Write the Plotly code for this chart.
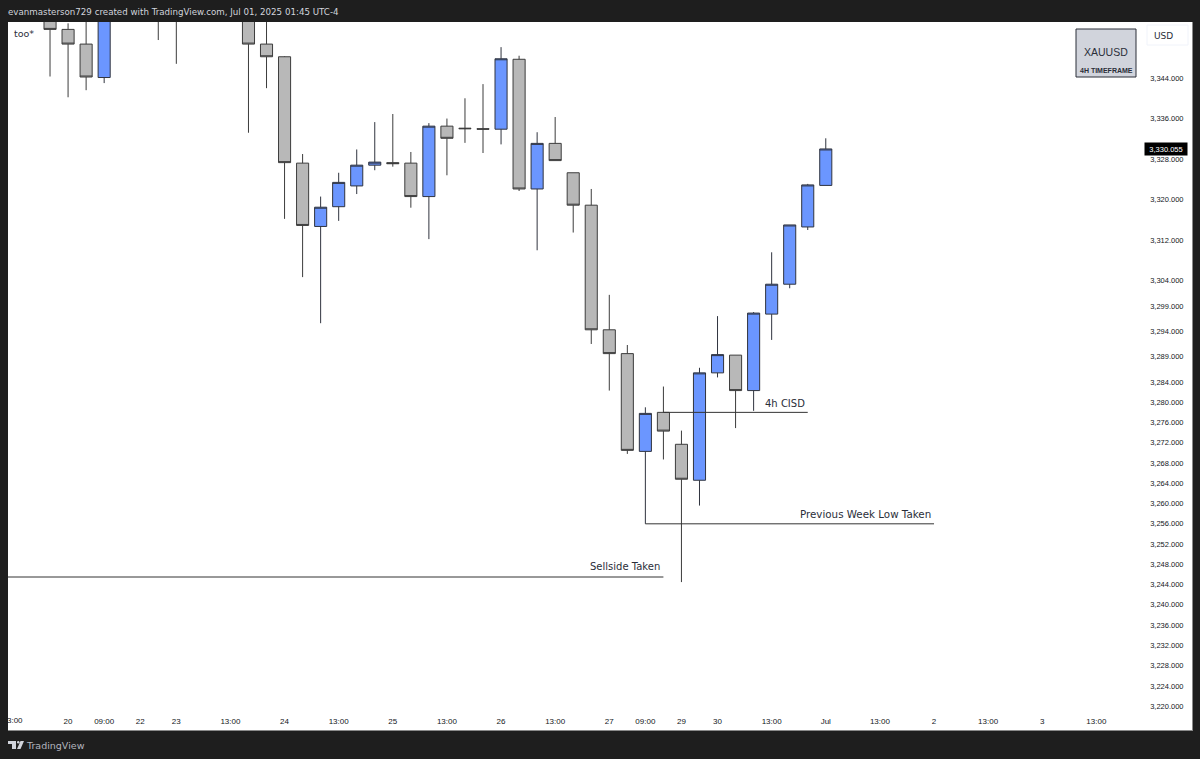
import plotly.graph_objects as go

# bar number on the 4h axis, candles fully off the top of the chart are left out
bars = [0, 1, 2, 3, 6, 7, 11, 12, 13, 14, 15, 16, 17, 18, 19, 20, 21, 22, 23, 24, 25, 26,
        27, 28, 29, 30, 31, 32, 33, 34, 35, 36, 37, 38, 39, 40, 41, 42, 43]
opens = [3358.0, 3353.6, 3350.7, 3344.1, 3362.0, 3360.0, 3356.5, 3350.7, 3348.2, 3327.2,
         3314.7, 3318.6, 3322.7, 3326.8, 3327.3, 3327.2, 3320.6, 3334.5, 3334.1, 3334.0,
         3333.9, 3347.7, 3322.1, 3331.1, 3325.3, 3318.9, 3294.3, 3289.6, 3270.3, 3278.0,
         3271.7, 3264.6, 3285.8, 3289.3, 3282.3, 3297.4, 3303.3, 3314.6, 3322.8]
closes = [3353.6, 3350.7, 3344.2, 3362.0, 3358.0, 3356.0, 3350.7, 3348.2, 3327.3, 3314.9,
          3318.5, 3323.4, 3326.8, 3327.4, 3327.1, 3320.6, 3334.5, 3332.1, 3334.0, 3333.9,
          3347.8, 3322.1, 3331.1, 3327.7, 3318.9, 3294.3, 3289.6, 3270.5, 3277.8, 3274.3,
          3264.8, 3285.8, 3289.4, 3282.3, 3297.6, 3303.3, 3315.0, 3322.9, 3330.0]
highs = [3360.0, 3354.8, 3357.0, 3364.0, 3364.0, 3362.0, 3358.0, 3356.0, 3348.3, 3329.0,
         3320.6, 3325.3, 3329.9, 3335.3, 3336.9, 3329.4, 3335.1, 3336.0, 3340.0, 3342.8,
         3350.1, 3348.4, 3333.3, 3336.3, 3325.3, 3322.1, 3301.2, 3291.3, 3279.0, 3283.1,
         3274.4, 3286.8, 3297.0, 3289.3, 3297.8, 3309.6, 3315.0, 3323.1, 3332.1]
lows = [3344.3, 3340.2, 3341.6, 3343.0, 3351.5, 3346.8, 3333.2, 3342.0, 3316.2, 3304.7,
        3295.6, 3315.8, 3321.1, 3325.8, 3326.5, 3318.4, 3312.2, 3324.8, 3331.2, 3329.2,
        3330.9, 3321.7, 3310.0, 3327.7, 3313.5, 3291.5, 3282.3, 3269.8, 3256.0, 3268.7,
        3244.5, 3259.6, 3284.9, 3274.9, 3278.3, 3292.3, 3302.5, 3314.0, 3322.8]

# hand drawn levels
sellside_x = [-2.33, 34]
sellside_y = [3245.5, 3245.5]
cisd_x = [34, 42]
cisd_y = [3278.0, 3278.0]
pwl_x = [33, 49]
pwl_y = [3256.0, 3256.0]

price_ticks = [3344, 3336, 3328, 3320, 3312, 3304, 3299, 3294, 3289, 3284, 3280, 3276, 3272,
               3268, 3264, 3260, 3256, 3252, 3248, 3244, 3240, 3236, 3232, 3228, 3224, 3220]
price_labels = ['3,344.000', '3,336.000', '3,328.000', '3,320.000', '3,312.000', '3,304.000',
                '3,299.000', '3,294.000', '3,289.000', '3,284.000', '3,280.000', '3,276.000',
                '3,272.000', '3,268.000', '3,264.000', '3,260.000', '3,256.000', '3,252.000',
                '3,248.000', '3,244.000', '3,240.000', '3,236.000', '3,232.000', '3,228.000',
                '3,224.000', '3,220.000']
time_ticks = [1, 3, 5, 7, 10, 13, 16, 19, 22, 25, 28, 31, 33, 35, 37, 40, 43, 46, 49, 52, 55, 58]
time_labels = ['20', '09:00', '22', '23', '13:00', '24', '13:00', '25', '13:00', '26',
               '13:00', '27', '09:00', '29', '30', '13:00', 'Jul', '13:00', '2', '13:00', '3', '13:00']
last_price = 3330.055

W, H = 1200, 759
L, R, T, B = 8, 1192, 22, 730
FONT = 'DejaVu Sans'
TICK_FONT = 'Liberation Sans'
DARK = '#1e1e1e'
INK = '#131722'


def px(x):
    return (x - L) / (R - L)


def py(y):
    return 1 - (y - T) / (B - T)


fig = go.Figure()
fig.add_trace(go.Candlestick(
    x=bars, open=opens, high=highs, low=lows, close=closes,
    increasing=dict(fillcolor='#6b96ff', line=dict(color='#30343f', width=1)),
    decreasing=dict(fillcolor='#b8b8b8', line=dict(color='#3c3c3c', width=1)),
    showlegend=False
))
for xs, ys in [(sellside_x, sellside_y), (cisd_x, cisd_y), (pwl_x, pwl_y)]:
    fig.add_trace(go.Scatter(x=xs, y=ys, mode='lines', line=dict(color='#333333', width=1),
                             showlegend=False, hoverinfo='skip'))


def note(text, x, y, size=10, color='#2a2e39', xanchor='left', family=FONT, **kw):
    fig.add_annotation(text=text, x=px(x), y=py(y), xref='paper', yref='paper', showarrow=False,
                       xanchor=xanchor, yanchor='middle', font=dict(family=family, size=size, color=color), **kw)


note('evanmasterson729 created with TradingView.com, Jul 01, 2025 01:45 UTC-4', 8, 12, 8.7, '#d1d4dc', xshift=-2)
note('too*', 14, 33, 9.5, xshift=-2)
note('TradingView', 26, 745, 9.5, '#b2b5be', xshift=-2)
note('XAUUSD', 1106, 52, 10.5, xanchor='center', family=TICK_FONT)
note('<b>4H TIMEFRAME</b>', 1106, 70, 7, xanchor='center', family=TICK_FONT)
note('USD', 1163, 36, 9, xanchor='center')
note('4h CISD', 785, 403, 10, xanchor='center')
note('Previous Week Low Taken', 865, 514, 10.3, xanchor='center')
note('Sellside Taken', 625, 566, 10, xanchor='center')
note('3:00', 7, 720, 8, INK, xshift=-2, family=TICK_FONT)
fig.add_annotation(text='3,330.055', x=px(1166), y=last_price, xref='paper', yref='y', showarrow=False,
                   bgcolor='#000000', font=dict(family=TICK_FONT, size=7.5, color='#ffffff'),
                   width=40, height=10, xanchor='center', yanchor='middle')

paper = dict(xref='paper', yref='paper')
fig.add_shape(type='rect', x0=px(1076), x1=px(1136), y0=py(29), y1=py(77),
              fillcolor='#d1d4dc', line=dict(color='#2a2e39', width=1), **paper)
fig.add_shape(type='rect', x0=px(1147), x1=px(1188), y0=py(25), y1=py(45),
              fillcolor='#ffffff', line=dict(color='#f0f3fa', width=1), **paper)
# TradingView logo in the footer
fig.add_shape(type='rect', x0=px(8), x1=px(16), y0=py(741), y1=py(744),
              fillcolor='#d1d4dc', line_width=0, **paper)
fig.add_shape(type='rect', x0=px(12), x1=px(16), y0=py(744), y1=py(749),
              fillcolor='#d1d4dc', line_width=0, **paper)
fig.add_shape(type='circle', x0=px(17), x1=px(19.5), y0=py(741), y1=py(743.6),
              fillcolor='#d1d4dc', line_width=0, **paper)
fig.add_shape(type='path', path=f'M {px(20.5)} {py(741)} L {px(24)} {py(741)} L {px(20.5)} {py(749)} L {px(17)} {py(749)} Z',
              fillcolor='#d1d4dc', line_width=0, **paper)

fig.update_layout(
    width=W, height=H,
    margin=dict(l=L, r=W - R, t=T, b=H - B, pad=0),
    paper_bgcolor=DARK, plot_bgcolor='#ffffff',
    boxgap=0.33, boxgroupgap=0,
    xaxis=dict(range=[-2.33, 63.3], tickvals=time_ticks, ticktext=time_labels, ticklabelposition='inside',
               tickfont=dict(family=TICK_FONT, size=8, color=INK), ticks='', showgrid=False, zeroline=False,
               rangeslider=dict(visible=False), showline=True, linecolor='#8a8a8a', mirror=False,
               ticklabelstandoff=3),
    yaxis=dict(range=[3215.3, 3355.06], side='right', tickvals=price_ticks, ticktext=price_labels,
               ticklabelposition='inside', tickfont=dict(family=TICK_FONT, size=7.5, color=INK), ticks='',
               showgrid=False, zeroline=False, showline=True, linecolor='#8a8a8a', ticklabelstandoff=7),
)

fig.write_html("out.html", config=dict(displayModeBar=False),
               post_script="document.body.style.margin='0';document.body.style.background='#1e1e1e';")
